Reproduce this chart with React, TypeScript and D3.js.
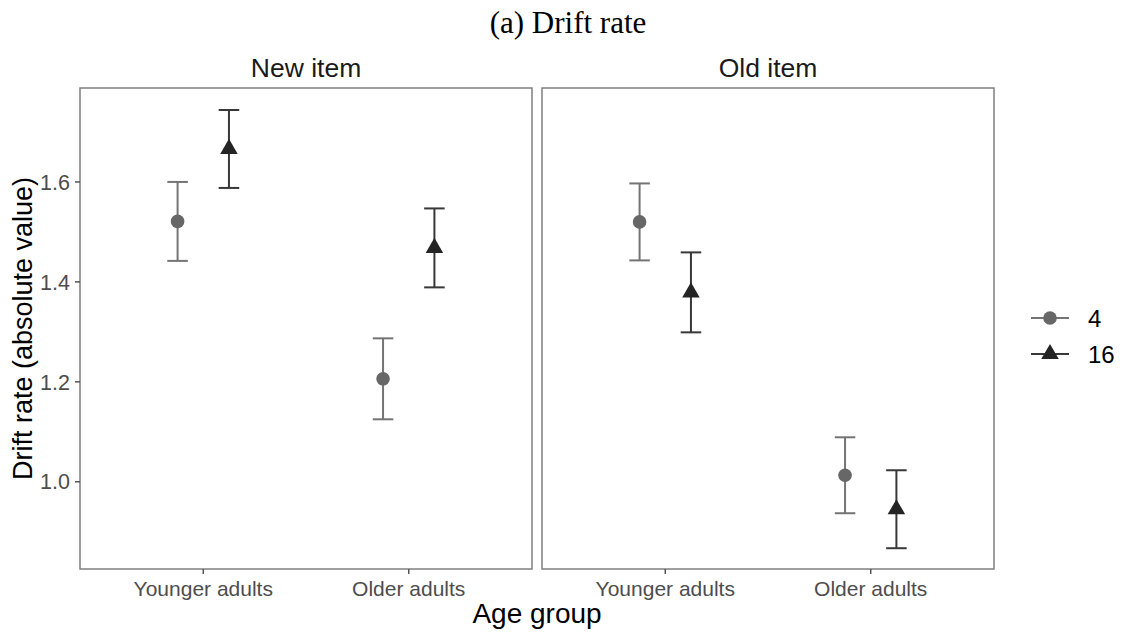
import React from "react";
import * as d3 from "d3";

// Facets, groups and conditions
const facets = ["New item", "Old item"];
const ageGroups = ["Younger adults", "Older adults"];
const setSizes = ["4", "16"];

// Mean drift rate (absolute value) and standard error, per facet, by age group
const newItemMean4 = [1.521, 1.206];
const newItemMean16 = [1.666, 1.468];
const newItemSe4 = [0.079, 0.081];
const newItemSe16 = [0.078, 0.079];

const oldItemMean4 = [1.52, 1.013];
const oldItemMean16 = [1.379, 0.945];
const oldItemSe4 = [0.077, 0.076];
const oldItemSe16 = [0.08, 0.078];

const yTicks = [1.0, 1.2, 1.4, 1.6];

const W = 1125;
const H = 635;
const panelTop = 88;
const panelBottom = 569;
const panelLefts = [80, 542];
const panelWidth = 452;

const pointColor: Record<string, string> = { "4": "#676767", "16": "#242424" };
const barColor: Record<string, string> = { "4": "#747474", "16": "#383838" };

const font = "Liberation Sans, Arial, Helvetica, sans-serif";

function trianglePath(cx: number, cy: number, side: number) {
  const h = (side * Math.sqrt(3)) / 2;
  // centroid sits on the data point
  return `M${cx},${cy - (2 * h) / 3}L${cx + side / 2},${cy + h / 3}L${cx - side / 2},${cy + h / 3}Z`;
}

function Marker({ kind, x, y }: { kind: string; x: number; y: number }) {
  if (kind === "4") return <circle cx={x} cy={y} r={6.8} fill={pointColor["4"]} />;
  return <path d={trianglePath(x, y, 17.5)} fill={pointColor["16"]} />;
}

export default function App() {
  const y = d3.scaleLinear().domain([0.8254, 1.788]).range([panelBottom, panelTop]);

  const panelData = [
    { means: { "4": newItemMean4, "16": newItemMean16 }, ses: { "4": newItemSe4, "16": newItemSe16 } },
    { means: { "4": oldItemMean4, "16": oldItemMean16 }, ses: { "4": oldItemSe4, "16": oldItemSe16 } },
  ];

  const dodge = 0.125;
  const capHalf = 0.05;

  return (
    <svg
      width={W}
      height={H}
      style={{ position: "absolute", left: 0, top: 0, background: "#fff" }}
    >
      <rect width={W} height={H} fill="#fff" />
      <text
        x={568}
        y={33}
        textAnchor="middle"
        fontFamily="Liberation Serif, Times New Roman, serif"
        fontSize={31}
        fill="#000"
      >
        (a) Drift rate
      </text>

      {facets.map((facet, fi) => {
        const left = panelLefts[fi];
        const x = d3.scaleLinear().domain([0.4, 2.6]).range([left, left + panelWidth]);
        const pd = panelData[fi];
        return (
          <g key={facet}>
            <text
              x={left + panelWidth / 2}
              y={77}
              textAnchor="middle"
              fontFamily={font}
              fontSize={26.5}
              fill="#1a1a1a"
            >
              {facet}
            </text>
            <rect
              x={left}
              y={panelTop}
              width={panelWidth}
              height={panelBottom - panelTop}
              fill="none"
              stroke="#7f7f7f"
              strokeWidth={1.5}
            />
            {ageGroups.map((g, gi) => (
              <g key={g}>
                <line
                  x1={x(gi + 1)}
                  x2={x(gi + 1)}
                  y1={panelBottom}
                  y2={panelBottom + 5}
                  stroke="#555"
                  strokeWidth={1.5}
                />
                <text
                  x={x(gi + 1)}
                  y={596}
                  textAnchor="middle"
                  fontFamily={font}
                  fontSize={21}
                  fill="#4d4d4d"
                >
                  {g}
                </text>
              </g>
            ))}
            {setSizes.map((s, si) =>
              ageGroups.map((g, gi) => {
                const cx = x(gi + 1 + (si === 0 ? -dodge : dodge));
                const m = (pd.means as any)[s][gi];
                const se = (pd.ses as any)[s][gi];
                const x0 = x(gi + 1 + (si === 0 ? -dodge : dodge) - capHalf);
                const x1 = x(gi + 1 + (si === 0 ? -dodge : dodge) + capHalf);
                return (
                  <g key={s + g}>
                    <line x1={cx} x2={cx} y1={y(m - se)} y2={y(m + se)} stroke={barColor[s]} strokeWidth={2} />
                    <line x1={x0} x2={x1} y1={y(m + se)} y2={y(m + se)} stroke={barColor[s]} strokeWidth={2} />
                    <line x1={x0} x2={x1} y1={y(m - se)} y2={y(m - se)} stroke={barColor[s]} strokeWidth={2} />
                    <Marker kind={s} x={cx} y={y(m)} />
                  </g>
                );
              })
            )}
          </g>
        );
      })}

      {/* y axis */}
      {yTicks.map((t) => (
        <g key={t}>
          <line x1={75} x2={80} y1={y(t)} y2={y(t)} stroke="#555" strokeWidth={1.5} />
          <text
            x={70}
            y={y(t)}
            dy="0.36em"
            textAnchor="end"
            fontFamily={font}
            fontSize={21.5}
            fill="#4d4d4d"
          >
            {d3.format(".1f")(t)}
          </text>
        </g>
      ))}
      <text
        transform={`translate(32, ${(panelTop + panelBottom) / 2}) rotate(-90)`}
        textAnchor="middle"
        fontFamily={font}
        fontSize={27}
        fill="#000"
      >
        Drift rate (absolute value)
      </text>
      <text x={537} y={623} textAnchor="middle" fontFamily={font} fontSize={28} fill="#000">
        Age group
      </text>

      {/* legend */}
      {setSizes.map((s, si) => {
        const ly = 318 + si * 36;
        return (
          <g key={s}>
            <line x1={1031} x2={1069} y1={ly} y2={ly} stroke={barColor[s]} strokeWidth={2} />
            <Marker kind={s} x={1050} y={ly} />
            <text x={1088} y={ly} dy="0.36em" fontFamily={font} fontSize={24} fill="#000">
              {s}
            </text>
          </g>
        );
      })}
    </svg>
  );
}
